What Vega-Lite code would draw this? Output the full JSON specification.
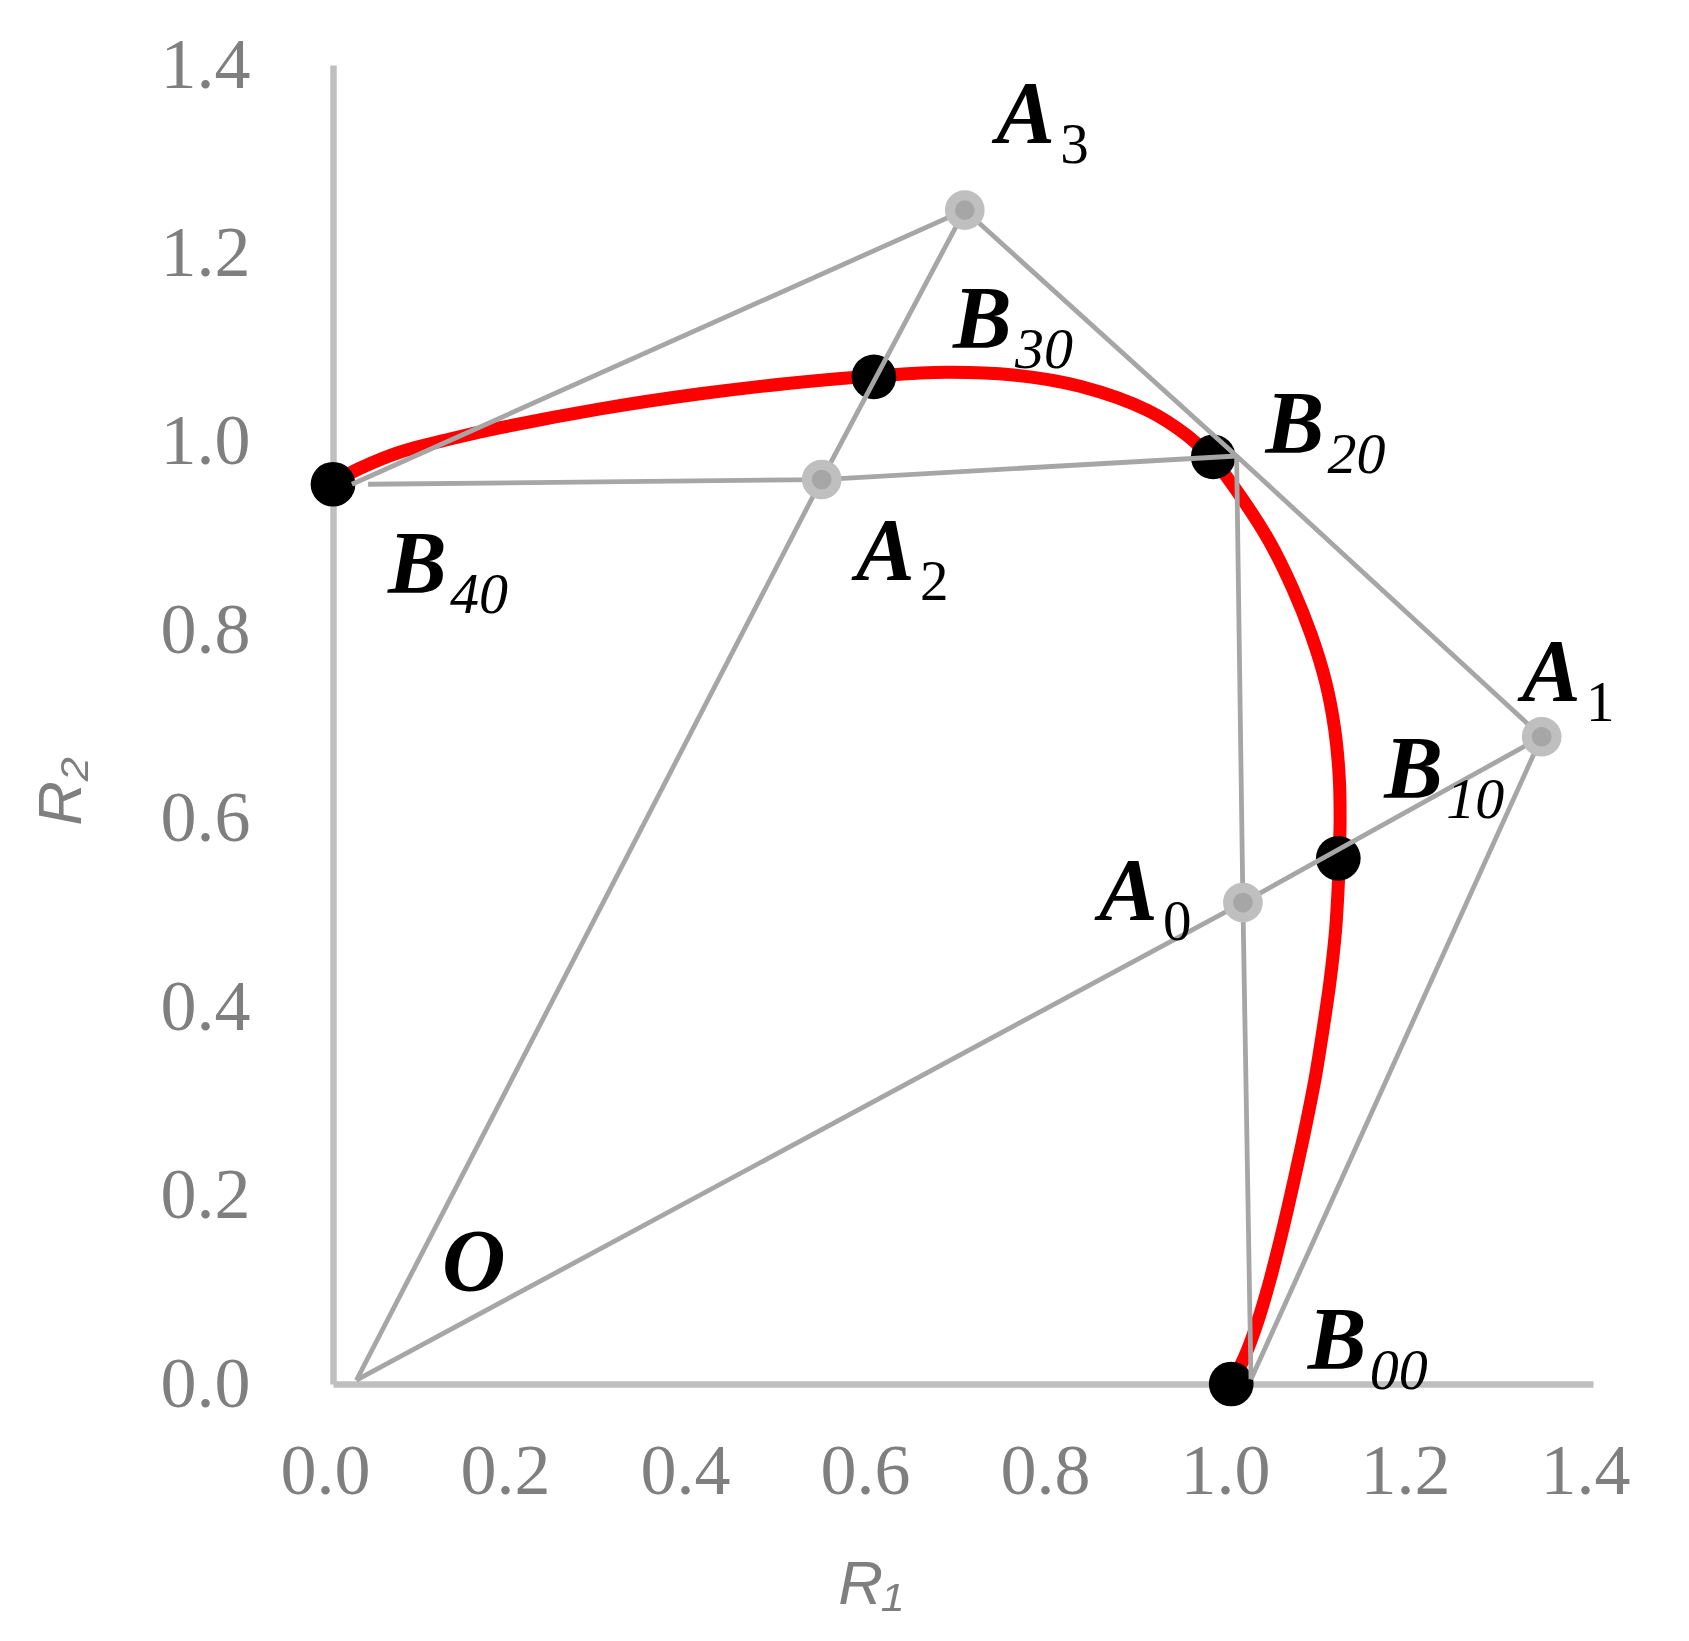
{
  "$schema": "https://vega.github.io/schema/vega-lite/v6.json",
  "width": 1260,
  "height": 1319,
  "autosize": "none",
  "padding": {"left": 333, "top": 65, "right": 96, "bottom": 257},
  "background": "white",
  "config": {"view": {"stroke": null}},
  "datasets": {
    "curve": [
      {"i": 0, "x": 0.998, "y": 0.0},
      {"i": 1, "x": 1.013, "y": 0.029},
      {"i": 2, "x": 1.027, "y": 0.065},
      {"i": 3, "x": 1.041, "y": 0.110},
      {"i": 4, "x": 1.055, "y": 0.163},
      {"i": 5, "x": 1.068, "y": 0.217},
      {"i": 6, "x": 1.080, "y": 0.270},
      {"i": 7, "x": 1.091, "y": 0.323},
      {"i": 8, "x": 1.100, "y": 0.376},
      {"i": 9, "x": 1.108, "y": 0.429},
      {"i": 10, "x": 1.114, "y": 0.482},
      {"i": 11, "x": 1.117, "y": 0.530},
      {"i": 12, "x": 1.118, "y": 0.558},
      {"i": 13, "x": 1.119, "y": 0.600},
      {"i": 14, "x": 1.118, "y": 0.645},
      {"i": 15, "x": 1.113, "y": 0.695},
      {"i": 16, "x": 1.103, "y": 0.745},
      {"i": 17, "x": 1.087, "y": 0.795},
      {"i": 18, "x": 1.066, "y": 0.845},
      {"i": 19, "x": 1.040, "y": 0.895},
      {"i": 20, "x": 1.010, "y": 0.940},
      {"i": 21, "x": 0.978, "y": 0.981},
      {"i": 22, "x": 0.950, "y": 1.006},
      {"i": 23, "x": 0.906, "y": 1.033},
      {"i": 24, "x": 0.830, "y": 1.059},
      {"i": 25, "x": 0.756, "y": 1.071},
      {"i": 26, "x": 0.682, "y": 1.074},
      {"i": 27, "x": 0.601, "y": 1.070},
      {"i": 28, "x": 0.505, "y": 1.062},
      {"i": 29, "x": 0.408, "y": 1.051},
      {"i": 30, "x": 0.297, "y": 1.035},
      {"i": 31, "x": 0.186, "y": 1.015},
      {"i": 32, "x": 0.130, "y": 1.003},
      {"i": 33, "x": 0.074, "y": 0.989},
      {"i": 34, "x": 0.030, "y": 0.972},
      {"i": 35, "x": 0.0, "y": 0.957}
    ],
    "guides": [
      {"g": "g1", "i": 0, "x": 0.026, "y": 0.004},
      {"g": "g1", "i": 1, "x": 1.011, "y": 0.511},
      {"g": "g1", "i": 2, "x": 1.343, "y": 0.687},
      {"g": "g2", "i": 0, "x": 0.026, "y": 0.004},
      {"g": "g2", "i": 1, "x": 0.543, "y": 0.960},
      {"g": "g2", "i": 2, "x": 0.702, "y": 1.246},
      {"g": "g3", "i": 0, "x": 1.020, "y": 0.005},
      {"g": "g3", "i": 1, "x": 1.011, "y": 0.511},
      {"g": "g3", "i": 2, "x": 1.004, "y": 0.985},
      {"g": "g4", "i": 0, "x": 1.020, "y": 0.005},
      {"g": "g4", "i": 1, "x": 1.343, "y": 0.687},
      {"g": "g5", "i": 0, "x": 0.039, "y": 0.955},
      {"g": "g5", "i": 1, "x": 0.543, "y": 0.960},
      {"g": "g5", "i": 2, "x": 1.004, "y": 0.985},
      {"g": "g6", "i": 0, "x": 0.021, "y": 0.955},
      {"g": "g6", "i": 1, "x": 0.702, "y": 1.246},
      {"g": "g6", "i": 2, "x": 1.004, "y": 0.985},
      {"g": "g6", "i": 3, "x": 1.343, "y": 0.687}
    ],
    "apoints": [
      {"name": "A0", "x": 1.011, "y": 0.511},
      {"name": "A1", "x": 1.343, "y": 0.687},
      {"name": "A2", "x": 0.543, "y": 0.960},
      {"name": "A3", "x": 0.702, "y": 1.246}
    ],
    "bpoints": [
      {"name": "B00", "x": 0.998, "y": 0.0},
      {"name": "B10", "x": 1.117, "y": 0.558},
      {"name": "B20", "x": 0.978, "y": 0.984},
      {"name": "B30", "x": 0.601, "y": 1.069},
      {"name": "B40", "x": 0.0, "y": 0.955}
    ],
    "labels": [
      {"main": "A", "sub": "3", "kind": "A", "x": 0.737, "y": 1.318},
      {"main": "A", "sub": "2", "kind": "A", "x": 0.581, "y": 0.854},
      {"main": "A", "sub": "1", "kind": "A", "x": 1.321, "y": 0.726},
      {"main": "A", "sub": "0", "kind": "A", "x": 0.851, "y": 0.494},
      {"main": "B", "sub": "00", "kind": "B", "x": 1.083, "y": 0.017},
      {"main": "B", "sub": "10", "kind": "B", "x": 1.168, "y": 0.623},
      {"main": "B", "sub": "20", "kind": "B", "x": 1.036, "y": 0.989},
      {"main": "B", "sub": "30", "kind": "B", "x": 0.689, "y": 1.101},
      {"main": "B", "sub": "40", "kind": "B", "x": 0.061, "y": 0.841},
      {"main": "O", "sub": "", "kind": "O", "x": 0.121, "y": 0.100}
    ]
  },
  "encoding": {
    "x": {
      "field": "x", "type": "quantitative",
      "scale": {"domain": [0, 1.4], "nice": false, "zero": false},
      "axis": {
        "values": [0, 0.2, 0.4, 0.6, 0.8, 1.0, 1.2, 1.4],
        "format": ".1f", "grid": false, "ticks": false, "tickSize": 0,
        "domainColor": "#BFBFBF", "domainWidth": 6.5,
        "labelFont": "Liberation Serif", "labelFontSize": 72, "labelColor": "#7F7F7F",
        "labelPadding": 52, "labelOffset": -8, "labelFlush": false, "labelOverlap": false, "labelBound": false,
        "title": "R₁", "titleFont": "Liberation Sans", "titleFontStyle": "italic",
        "titleFontWeight": "normal", "titleFontSize": 62, "titleColor": "#7F7F7F",
        "titleX": 537, "titleY": 219, "titleBaseline": "alphabetic", "titleAlign": "center"
      }
    },
    "y": {
      "field": "y", "type": "quantitative",
      "scale": {"domain": [0, 1.4], "nice": false, "zero": false},
      "axis": {
        "values": [0, 0.2, 0.4, 0.6, 0.8, 1.0, 1.2, 1.4],
        "format": ".1f", "grid": false, "ticks": false, "tickSize": 0,
        "domainColor": "#BFBFBF", "domainWidth": 6.5,
        "labelFont": "Liberation Serif", "labelFontSize": 72, "labelColor": "#7F7F7F",
        "labelPadding": 83, "labelFlush": false, "labelOverlap": false, "labelBound": false,
        "title": "R₂", "titleFont": "Liberation Sans", "titleFontStyle": "italic",
        "titleFontWeight": "normal", "titleFontSize": 62, "titleColor": "#7F7F7F",
        "titleAngle": -90, "titleX": -253, "titleY": 726, "titleBaseline": "alphabetic", "titleAlign": "center"
      }
    }
  },
  "layer": [
    {
      "data": {"name": "curve"},
      "mark": {"type": "line", "color": "#FF0000", "strokeWidth": 13, "interpolate": "catmull-rom"},
      "encoding": {"order": {"field": "i", "type": "quantitative"}}
    },
    {
      "data": {"name": "bpoints"},
      "mark": {"type": "circle", "color": "#000000", "opacity": 1, "size": 2000}
    },
    {
      "data": {"name": "guides"},
      "mark": {"type": "line", "color": "#A6A6A6", "strokeWidth": 4.8},
      "encoding": {
        "detail": {"field": "g", "type": "nominal"},
        "order": {"field": "i", "type": "quantitative"}
      }
    },
    {
      "data": {"name": "apoints"},
      "mark": {"type": "point", "shape": "circle", "filled": true, "fill": "#A6A6A6", "stroke": "#BFBFBF", "strokeWidth": 10, "opacity": 1, "strokeOpacity": 1, "fillOpacity": 1, "size": 880}
    },
    {
      "data": {"name": "labels"},
      "mark": {"type": "text", "font": "Liberation Serif", "fontStyle": "italic", "fontWeight": "bold", "fontSize": 88, "align": "left", "baseline": "alphabetic", "color": "#000000"},
      "encoding": {"text": {"field": "main"}}
    },
    {
      "data": {"name": "labels"},
      "transform": [{"filter": "datum.kind == 'A'"}],
      "mark": {"type": "text", "font": "Liberation Serif", "fontStyle": "normal", "fontWeight": "normal", "fontSize": 57, "align": "left", "baseline": "alphabetic", "color": "#000000", "dx": 64, "dy": 21},
      "encoding": {"text": {"field": "sub"}}
    },
    {
      "data": {"name": "labels"},
      "transform": [{"filter": "datum.kind == 'B'"}],
      "mark": {"type": "text", "font": "Liberation Serif", "fontStyle": "italic", "fontWeight": "normal", "fontSize": 58, "align": "left", "baseline": "alphabetic", "color": "#000000", "dx": 62, "dy": 21},
      "encoding": {"text": {"field": "sub"}}
    }
  ]
}
